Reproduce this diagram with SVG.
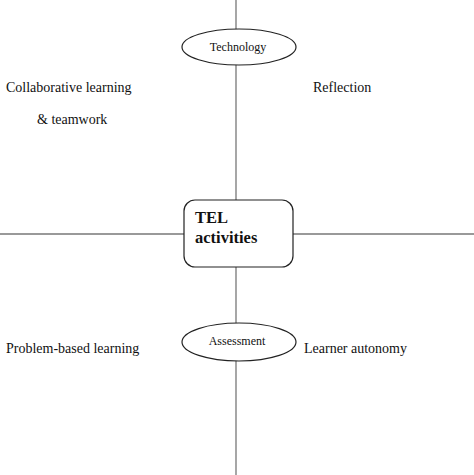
<svg xmlns="http://www.w3.org/2000/svg" width="474" height="475" viewBox="0 0 474 475">
<style>
.ln{stroke:#777;stroke-width:1.3;fill:none}
.nd{fill:#fff;stroke:#222;stroke-width:1.2}
.t{font-family:"Liberation Serif",serif;fill:#111}
</style>
<rect width="474" height="475" fill="#fff"/>
<g id="connectors">
<line class="ln" x1="236" y1="0" x2="236" y2="475"/>
<line class="ln" x1="0" y1="234" x2="474" y2="234"/>
</g>
<g id="technology">
<ellipse class="nd" cx="239" cy="47" rx="57" ry="18"/>
<text class="t" x="238" y="51" font-size="12" text-anchor="middle">Technology</text>
</g>
<g id="tel">
<rect class="nd" x="184" y="200" width="109" height="67" rx="11"/>
<text class="t" x="195" y="223" font-size="16.5" font-weight="bold">TEL</text>
<text class="t" x="195" y="243" font-size="16.5" font-weight="bold">activities</text>
</g>
<g id="assessment">
<ellipse class="nd" cx="239" cy="342" rx="57" ry="19"/>
<text class="t" x="237" y="345" font-size="12" text-anchor="middle">Assessment</text>
</g>
<g id="collab">
<text class="t" x="6" y="92" font-size="14">Collaborative learning</text>
<text class="t" x="37" y="124" font-size="14">&amp; teamwork</text>
</g>
<g id="reflection">
<text class="t" x="313" y="92" font-size="14">Reflection</text>
</g>
<g id="pbl">
<text class="t" x="6" y="353" font-size="14">Problem-based learning</text>
</g>
<g id="autonomy">
<text class="t" x="304" y="353" font-size="14">Learner autonomy</text>
</g>
</svg>
